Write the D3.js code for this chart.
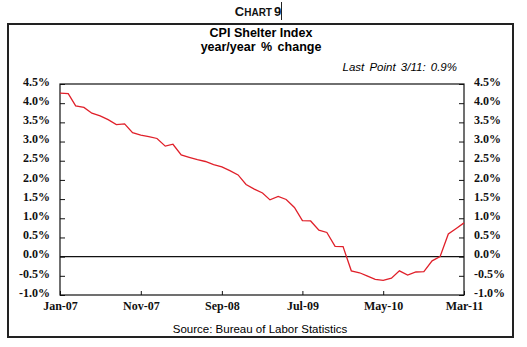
<!DOCTYPE html>
<html>
<head>
<meta charset="utf-8">
<script src="https://cdn.jsdelivr.net/npm/d3@7"></script>
<style>
  body { margin: 0; background: white; }
  svg { display: block; }
  .tick text { font-family: "Liberation Serif", serif; font-weight: bold; font-size: 12px; fill: #111; }
</style>
</head>
<body>
<div class="plot"></div>
<script>
// Monthly CPI shelter, y/y % change, Jan-07 .. Mar-11
var startMonth = new Date(2007, 0, 1);
var shelterValues = [
  4.26, 4.25, 3.93, 3.89, 3.74, 3.67, 3.57, 3.44, 3.46, 3.23,
  3.17, 3.13, 3.08, 2.88, 2.93, 2.65, 2.59, 2.53, 2.48, 2.40,
  2.34, 2.24, 2.13, 1.88, 1.76, 1.66, 1.48, 1.57, 1.49, 1.28,
  0.94, 0.93, 0.69, 0.63, 0.27, 0.26, -0.37, -0.42, -0.50, -0.59,
  -0.62, -0.56, -0.37, -0.48, -0.40, -0.39, -0.11, 0.00, 0.59, 0.74,
  0.88
];
var xTickLabels = ["Jan-07", "Nov-07", "Sep-08", "Jul-09", "May-10", "Mar-11"];
var yTicks = [-1.0, -0.5, 0.0, 0.5, 1.0, 1.5, 2.0, 2.5, 3.0, 3.5, 4.0, 4.5];

var data = shelterValues.map(function (v, i) {
  return { date: new Date(2007, i, 1), value: v };
});

var outerWidth = 527, outerHeight = 347;
var plot = {left: 60, right: 464, top: 84, bottom: 295};

var svg = d3.select(".plot").append("svg")
    .attr("width", outerWidth)
    .attr("height", outerHeight);

svg.append("rect")
    .attr("width", "100%")
    .attr("height", "100%")
    .attr("fill", "white");

// "Chart 9" heading with small caps
var head = svg.append("text")
    .attr("x", 258)
    .attr("y", 16)
    .attr("text-anchor", "middle")
    .style("font-family", "Liberation Sans, Arial, sans-serif")
    .style("font-weight", "bold")
    .style("fill", "#111");
head.append("tspan").style("font-size", "13px").text("C");
head.append("tspan").style("font-size", "10px").text("HART");
head.append("tspan").style("font-size", "13px").attr("dx", 2).text("9");
svg.append("line")
    .attr("x1", 281.5).attr("x2", 281.5)
    .attr("y1", 2).attr("y2", 20)
    .attr("stroke", "#222").attr("stroke-width", 1);

// outer frame
svg.append("rect")
    .attr("x", 8)
    .attr("y", 24)
    .attr("width", 505)
    .attr("height", 313)
    .attr("fill", "none")
    .attr("stroke", "#222")
    .attr("stroke-width", 2);

// titles
svg.append("text")
    .attr("x", 261).attr("y", 36.5)
    .attr("text-anchor", "middle")
    .style("font-family", "Liberation Sans, Arial, sans-serif")
    .style("font-weight", "bold")
    .style("font-size", "12.5px")
    .text("CPI Shelter Index");
svg.append("text")
    .attr("x", 261).attr("y", 50.5)
    .attr("text-anchor", "middle")
    .style("font-family", "Liberation Sans, Arial, sans-serif")
    .style("font-weight", "bold")
    .style("font-size", "12.5px")
    .style("word-spacing", "2px")
    .text("year/year % change");
svg.append("text")
    .attr("x", 457).attr("y", 71)
    .attr("text-anchor", "end")
    .style("font-family", "Liberation Sans, Arial, sans-serif")
    .style("font-style", "italic")
    .style("font-size", "11.5px")
    .style("word-spacing", "2px")
    .text("Last Point 3/11: 0.9%");
svg.append("text")
    .attr("x", 260).attr("y", 333)
    .attr("text-anchor", "middle")
    .style("font-family", "Liberation Sans, Arial, sans-serif")
    .style("font-size", "11.5px")
    .text("Source: Bureau of Labor Statistics");

// scales
var xScale = d3.scaleTime()
    .domain([startMonth, new Date(2011, 2, 1)])
    .range([plot.left, plot.right]);
var yScale = d3.scaleLinear()
    .domain([-1.0, 4.5])
    .range([plot.bottom, plot.top]);

var fmt = function (d) { return d.toFixed(1) + "%"; };
var xTickDates = xTickLabels.map(function (s, i) { return new Date(2007, i * 10, 1); });

// left axis (ticks point inward)
var yLeft = svg.append("g")
    .attr("transform", "translate(" + plot.left + ",0)")
    .call(d3.axisLeft(yScale).tickValues(yTicks).tickFormat(fmt).tickSizeInner(-5).tickSizeOuter(0).tickPadding(10));
yLeft.selectAll(".tick text").attr("dy", "0.1em");

var yRight = svg.append("g")
    .attr("transform", "translate(" + plot.right + ",0)")
    .call(d3.axisRight(yScale).tickValues(yTicks).tickFormat(fmt).tickSizeInner(-5).tickSizeOuter(0).tickPadding(10));
yRight.selectAll(".tick text").attr("dy", "0.1em");

var xAxis = svg.append("g")
    .attr("transform", "translate(0," + plot.bottom + ")")
    .call(d3.axisBottom(xScale).tickValues(xTickDates)
        .tickFormat(function (d, i) { return xTickLabels[i]; })
        .tickSizeInner(-4).tickSizeOuter(0).tickPadding(8));
xAxis.selectAll(".tick text").attr("dy", "0.55em");

svg.selectAll(".domain").remove();
svg.selectAll(".tick line").attr("stroke", "#111");

// plot frame
svg.append("rect")
    .attr("x", plot.left)
    .attr("y", plot.top)
    .attr("width", plot.right - plot.left)
    .attr("height", plot.bottom - plot.top)
    .attr("fill", "none")
    .attr("stroke", "#111")
    .attr("stroke-width", 1.2);

// zero line
svg.append("line")
    .attr("x1", plot.left).attr("x2", plot.right)
    .attr("y1", yScale(0)).attr("y2", yScale(0))
    .attr("stroke", "#111").attr("stroke-width", 1.2);

// data line
var line = d3.line()
    .x(function (d) { return xScale(d.date); })
    .y(function (d) { return yScale(d.value); });

svg.append("path")
    .datum(data)
    .attr("d", line)
    .attr("fill", "none")
    .attr("stroke", "#e0202a")
    .attr("stroke-width", 1.3);
</script>
</body>
</html>
